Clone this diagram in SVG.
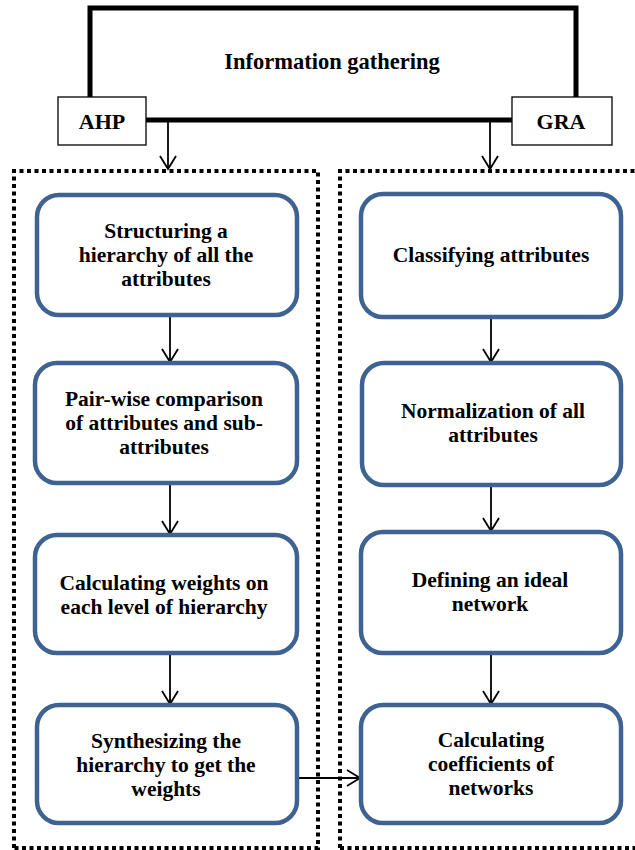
<svg xmlns="http://www.w3.org/2000/svg" width="635" height="850" viewBox="0 0 635 850">
<style>
.t{font-family:'Liberation Serif','Times New Roman',serif;font-weight:700;font-size:21.5px;fill:#000;text-anchor:middle}
.node{fill:#fff;stroke:#3E6291;stroke-width:4.5}
.lbl{fill:#fff;stroke:#000;stroke-width:1.3}
.thick{fill:none;stroke:#000;stroke-width:5}
.dot{fill:none;stroke:#000;stroke-width:4;stroke-dasharray:4 3.5}
.conn{fill:none;stroke:#000;stroke-width:1.8;marker-end:url(#ah)}
</style>
<defs>
<marker id="ah" markerUnits="userSpaceOnUse" viewBox="0 0 16 18" markerWidth="16" markerHeight="18" refX="14" refY="9" orient="auto">
<path d="M1,1 L14,9 L1,17" fill="none" stroke="#000" stroke-width="1.8"/>
</marker>
</defs>
<rect width="635" height="850" fill="#fff"/>
<g id="frames">
<path class="dot" d="M14,848 V171 H318 V848 Z"/>
<path class="dot" d="M340,848 V171 H640 M340,848 H640"/>
</g>
<g id="info">
<path class="thick" d="M90,97 V8 H576 V97"/>
<path class="thick" d="M146,120 H512"/>
<text class="t" x="332" y="69" style="font-size:22.5px">Information gathering</text>
</g>
<g id="ahp">
<rect class="lbl" x="58" y="97" width="88" height="48"/>
<text class="t" x="102" y="129" style="font-size:22px">AHP</text>
</g>
<g id="gra">
<rect class="lbl" x="512" y="97" width="100" height="48"/>
<text class="t" x="561" y="129" style="font-size:22px">GRA</text>
</g>
<g id="connectors">
<path class="conn" d="M168,121 V169"/>
<path class="conn" d="M490,121 V169"/>
<path class="conn" d="M170,315 V362"/>
<path class="conn" d="M170,483 V534"/>
<path class="conn" d="M170,653 V704"/>
<path class="conn" d="M491,317 V362"/>
<path class="conn" d="M491,485 V531"/>
<path class="conn" d="M491,653 V704"/>
<path class="conn" d="M297,778 H360"/>
</g>
<g id="a1">
<rect class="node" x="37" y="195" width="260" height="120" rx="22"/>
<text class="t"><tspan x="166" y="238">Structuring a</tspan><tspan x="166" y="262">hierarchy of all the</tspan><tspan x="166" y="286">attributes</tspan></text>
</g>
<g id="a2">
<rect class="node" x="35" y="363" width="262" height="120" rx="22"/>
<text class="t"><tspan x="164" y="406">Pair-wise comparison</tspan><tspan x="164" y="430">of attributes and sub-</tspan><tspan x="164" y="454">attributes</tspan></text>
</g>
<g id="a3">
<rect class="node" x="35" y="535" width="262" height="118" rx="22"/>
<text class="t"><tspan x="164" y="590">Calculating weights on</tspan><tspan x="164" y="614">each level of hierarchy</tspan></text>
</g>
<g id="a4">
<rect class="node" x="37" y="705" width="260" height="118" rx="22"/>
<text class="t"><tspan x="166" y="748">Synthesizing the</tspan><tspan x="166" y="772">hierarchy to get the</tspan><tspan x="166" y="796">weights</tspan></text>
</g>
<g id="g1">
<rect class="node" x="361" y="194" width="260" height="123" rx="22"/>
<text class="t" x="491" y="262">Classifying attributes</text>
</g>
<g id="g2">
<rect class="node" x="362" y="363" width="259" height="122" rx="22"/>
<text class="t"><tspan x="493" y="418">Normalization of all</tspan><tspan x="493" y="442">attributes</tspan></text>
</g>
<g id="g3">
<rect class="node" x="361" y="532" width="260" height="121" rx="22"/>
<text class="t"><tspan x="490" y="587">Defining an ideal</tspan><tspan x="490" y="611">network</tspan></text>
</g>
<g id="g4">
<rect class="node" x="361" y="705" width="260" height="118" rx="22"/>
<text class="t"><tspan x="491" y="747">Calculating</tspan><tspan x="491" y="771">coefficients of</tspan><tspan x="491" y="795">networks</tspan></text>
</g>
</svg>
